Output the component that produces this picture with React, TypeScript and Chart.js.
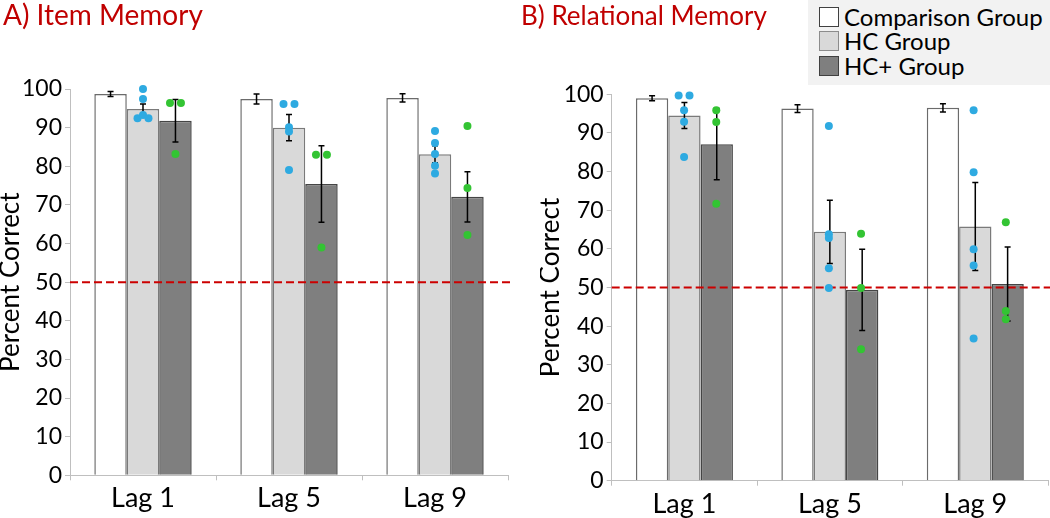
import React, { useEffect, useRef } from "react";
import { Chart, registerables } from "chart.js";

Chart.register(...registerables);

// ---------- data ----------
const categories = ["Lag 1", "Lag 5", "Lag 9"];
const seriesNames = ["Comparison Group", "HC Group", "HC+ Group"];
const yTickValues = [0, 10, 20, 30, 40, 50, 60, 70, 80, 90, 100];
const chanceLevel = 50;

// A) Item Memory
const itemComparison = [98.7, 97.4, 97.7];
const itemComparisonErr = [0.65, 1.3, 1.05];
const itemHC = [94.8, 90.0, 83.1];
const itemHCErr = [1.3, 3.4, 2.2];
const itemHCPlus = [91.8, 75.4, 72.1];
const itemHCPlusErr = [5.5, 9.9, 6.5];
const itemHCDots = [
  [100, 97.4, 92.4, 93.3, 92.4],
  [96.1, 96.1, 90.1, 89.0, 79.0],
  [89.1, 86.0, 83.2, 80.1, 78.1],
];
const itemHCPlusDots = [
  [96.4, 96.4, 83.2],
  [83.0, 83.0, 59.0],
  [90.4, 74.4, 62.2],
];

// B) Relational Memory
const relComparison = [99.0, 96.3, 96.5];
const relComparisonErr = [0.65, 1.0, 1.05];
const relHC = [94.5, 64.4, 65.8];
const relHCErr = [3.35, 8.2, 11.4];
const relHCPlus = [87.1, 49.4, 50.9];
const relHCPlusErr = [9.2, 10.5, 9.6];
const relHCDots = [
  [99.7, 99.7, 95.9, 92.9, 83.8],
  [91.8, 63.8, 62.8, 55.0, 49.9],
  [95.9, 79.8, 59.9, 55.7, 36.8],
];
const relHCPlusDots = [
  [95.9, 92.8, 71.7],
  [63.9, 49.9, 34.0],
  [66.9, 43.9, 41.8],
];

// ---------- styles ----------
const FONT = "Lato, 'Open Sans', sans-serif";
const CAT_PCT = 0.667;
const DOT_GAP = 0.075;
const BAR_FILLS = ["#ffffff", "#d9d9d9", "#7f7f7f"];
const BAR_BORDERS = ["#6b6b6b", "#7a7a7a", "#454545"];
const BLUE = "#2eaae1";
const GREEN = "#33c433";
const RED = "#cc0000";

function buildDots(groups: number[][], shift: number) {
  const pts: { x: number; y: number }[] = [];
  groups.forEach((vals, i) => {
    const counts: Record<string, number> = {};
    const seen: Record<string, number> = {};
    vals.forEach((v) => (counts[v] = (counts[v] || 0) + 1));
    vals.forEach((v) => {
      const n = counts[v];
      const k = seen[v] || 0;
      seen[v] = k + 1;
      pts.push({ x: i + shift + (k - (n - 1) / 2) * DOT_GAP, y: v });
    });
  });
  return pts;
}

type PanelProps = {
  means: number[][];
  errs: number[][];
  hcDots: number[][];
  hcPlusDots: number[][];
  left: number;
  width: number;
  yAxisWidth: number;
  xAxisHeight: number;
  padTop: number;
  padRight: number;
};

function Panel(p: PanelProps) {
  const barRef = useRef<HTMLCanvasElement | null>(null);
  const dotRef = useRef<HTMLCanvasElement | null>(null);
  useEffect(() => {
    if (!barRef.current || !dotRef.current) return;
    const overlay = {
      id: "overlay",
      afterDatasetsDraw(chart: any) {
        const { ctx, chartArea, scales } = chart;
        const y = scales.y.getPixelForValue(chanceLevel);
        ctx.save();
        ctx.strokeStyle = RED;
        ctx.lineWidth = 2;
        ctx.setLineDash([8, 4]);
        ctx.beginPath();
        ctx.moveTo(chartArea.left, y);
        ctx.lineTo(chartArea.right + 4, y);
        ctx.stroke();
        ctx.setLineDash([]);
        ctx.strokeStyle = "#000";
        ctx.lineWidth = 1.5;
        for (let d = 0; d < 3; d++) {
          const meta = chart.getDatasetMeta(d);
          meta.data.forEach((bar: any, j: number) => {
            const m = p.means[d][j];
            const e = p.errs[d][j];
            const yt = scales.y.getPixelForValue(m + e);
            const yb = scales.y.getPixelForValue(m - e);
            const x = bar.x;
            ctx.beginPath();
            ctx.moveTo(x, yt);
            ctx.lineTo(x, yb);
            ctx.moveTo(x - 3, yt);
            ctx.lineTo(x + 3, yt);
            ctx.moveTo(x - 3, yb);
            ctx.lineTo(x + 3, yb);
            ctx.stroke();
          });
        }
        ctx.restore();
      },
    };
    const layout = { padding: { top: p.padTop, right: p.padRight, left: 0, bottom: 0 } };
    const barChart = new Chart(barRef.current, {
      type: "bar",
      data: {
        labels: categories,
        datasets: p.means.map((vals, d) => ({
          label: seriesNames[d],
          data: vals,
          backgroundColor: BAR_FILLS[d],
          borderColor: BAR_BORDERS[d],
          borderWidth: 1.5,
          categoryPercentage: CAT_PCT,
          barPercentage: 1,
        })),
      },
      options: {
        animation: false,
        responsive: false,
        events: [],
        layout,
        plugins: { legend: { display: false }, tooltip: { enabled: false } },
        scales: {
          x: {
            type: "category",
            offset: true,
            grid: { offset: true, drawOnChartArea: false, drawTicks: true, tickLength: 5, color: "#bfbfbf" },
            border: { color: "#bfbfbf", width: 1 },
            ticks: { font: { family: FONT, size: 27 }, color: "#000", padding: 2 },
            afterFit: (s: any) => {
              s.height = p.xAxisHeight;
            },
          },
          y: {
            min: 0,
            max: 100,
            afterBuildTicks: (s: any) => {
              s.ticks = yTickValues.map((v) => ({ value: v }));
            },
            grid: { drawOnChartArea: false, drawTicks: true, tickLength: 5, color: "#bfbfbf" },
            border: { color: "#bfbfbf", width: 1 },
            ticks: { font: { family: FONT, size: 23 }, color: "#000", padding: 3 },
            title: {
              display: true,
              text: "Percent Correct",
              font: { family: FONT, size: 26, lineHeight: 0.8 },
              color: "#000",
              padding: 0,
            },
            afterFit: (s: any) => {
              s.width = p.yAxisWidth;
            },
          },
        },
      } as any,
      plugins: [overlay],
    });
    const hidden = { display: false };
    const dotChart = new Chart(dotRef.current, {
      type: "scatter",
      data: {
        datasets: [
          {
            label: "HC individuals",
            data: buildDots(p.hcDots, 0),
            backgroundColor: BLUE,
            borderWidth: 0,
            pointRadius: 4,
            clip: false,
          },
          {
            label: "HC+ individuals",
            data: buildDots(p.hcPlusDots, CAT_PCT / 3),
            backgroundColor: GREEN,
            borderWidth: 0,
            pointRadius: 4,
            clip: false,
          },
        ],
      },
      options: {
        animation: false,
        responsive: false,
        events: [],
        layout,
        plugins: { legend: { display: false }, tooltip: { enabled: false } },
        scales: {
          x: {
            type: "linear",
            min: -0.5,
            max: 2.5,
            offset: false,
            grid: hidden,
            border: hidden,
            ticks: hidden,
            afterFit: (s: any) => {
              s.height = p.xAxisHeight;
            },
          },
          y: {
            type: "linear",
            min: 0,
            max: 100,
            grid: hidden,
            border: hidden,
            ticks: hidden,
            afterFit: (s: any) => {
              s.width = p.yAxisWidth;
            },
          },
        },
      } as any,
    });
    return () => {
      barChart.destroy();
      dotChart.destroy();
    };
  }, []);
  const style: React.CSSProperties = { position: "absolute", left: p.left, top: 0, width: p.width, height: 518 };
  return (
    <>
      <canvas ref={barRef} width={p.width} height={518} style={style} />
      <canvas ref={dotRef} width={p.width} height={518} style={{ ...style, pointerEvents: "none" }} />
    </>
  );
}

const titleStyle: React.CSSProperties = {
  position: "absolute",
  fontFamily: FONT,
  lineHeight: 1,
  color: "#c00000",
  whiteSpace: "nowrap",
};

export default function App() {
  return (
    <div style={{ position: "fixed", left: 0, top: 0, width: 1050, height: 518, background: "#fff", overflow: "hidden" }}>
      <Panel
        means={[itemComparison, itemHC, itemHCPlus]}
        errs={[itemComparisonErr, itemHCErr, itemHCPlusErr]}
        hcDots={itemHCDots}
        hcPlusDots={itemHCPlusDots}
        left={0}
        width={520}
        yAxisWidth={70}
        xAxisHeight={42.7}
        padTop={89}
        padRight={12}
      />
      <Panel
        means={[relComparison, relHC, relHCPlus]}
        errs={[relComparisonErr, relHCErr, relHCPlusErr]}
        hcDots={relHCDots}
        hcPlusDots={relHCPlusDots}
        left={540}
        width={510}
        yAxisWidth={71.7}
        xAxisHeight={37.3}
        padTop={94.3}
        padRight={2}
      />
      <div style={{ ...titleStyle, left: 3, top: 0, fontSize: 28 }}>A) Item Memory</div>
      <div style={{ ...titleStyle, left: 521, top: 2, fontSize: 26 }}>B) Relational Memory</div>
      <div style={{ position: "absolute", left: 808, top: 0, width: 242, height: 85, background: "#f2f2f2" }}>
        {seriesNames.map((name, i) => (
          <div key={name} style={{ position: "absolute", left: 11, top: 6 + i * 24.7, height: 21, display: "flex", alignItems: "center" }}>
            <div
              style={{
                width: 18,
                height: 18,
                background: BAR_FILLS[i],
                border: `1.5px solid ${i === 1 ? "#8c8c8c" : "#404040"}`,
              }}
            />
            <span style={{ marginLeft: 5, fontFamily: FONT, fontSize: 24, lineHeight: 1, color: "#000", whiteSpace: "nowrap" }}>{name}</span>
          </div>
        ))}
      </div>
    </div>
  );
}
